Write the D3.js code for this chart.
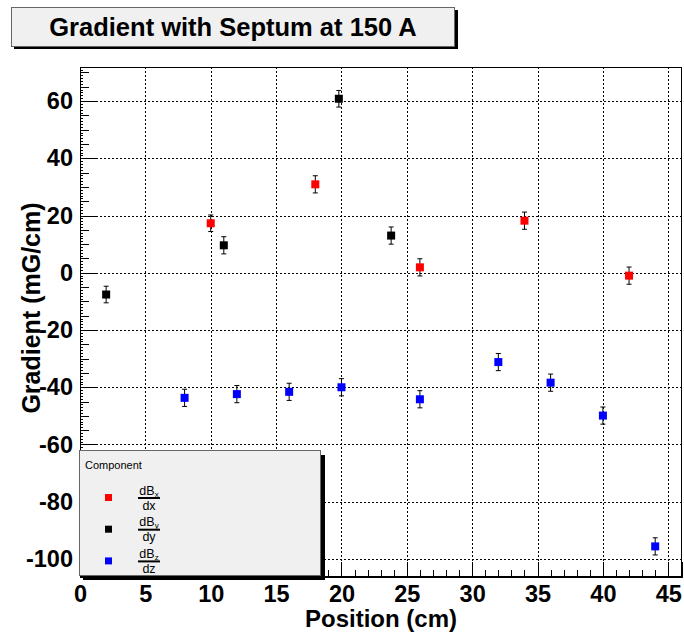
<!DOCTYPE html>
<html>
<head>
<meta charset="utf-8">
<script src="https://cdn.jsdelivr.net/npm/d3@7"></script>
<style>
  body { margin: 0; background: #fff; }
  svg { display: block; font-family: "Liberation Sans", Arial, sans-serif; }
</style>
</head>
<body>
<svg id="chart" width="684" height="635"></svg>
<script>
// ── Data ──────────────────────────────────────────────────────────────────────
const dxPos = [10, 18, 26, 34, 42];
const dxVal = [17.3, 30.9, 1.9, 18.2, -1.0];
const dxErr = [2.9, 3.0, 3.0, 3.0, 3.0];

const dyPos = [2, 11, 19.8, 23.8];
const dyVal = [-7.6, 9.6, 60.8, 13.0];
const dyErr = [2.9, 3.0, 2.9, 3.0];

const dzPos = [8, 12, 16, 20, 26, 32, 36, 40, 44];
const dzVal = [-43.7, -42.4, -41.6, -40.0, -44.2, -31.2, -38.4, -49.9, -95.6];
const dzErr = [3.0, 3.0, 3.0, 3.0, 3.0, 3.0, 3.0, 3.0, 3.0];

const xTicks = [0, 5, 10, 15, 20, 25, 30, 35, 40, 45];
const yTicks = [-100, -80, -60, -40, -20, 0, 20, 40, 60];

const series = [
  { name: "x", color: "#ff0000", pos: dxPos, val: dxVal, err: dxErr },
  { name: "y", color: "#000000", pos: dyPos, val: dyVal, err: dyErr },
  { name: "z", color: "#0000ff", pos: dzPos, val: dzVal, err: dzErr },
];

// ── Frame / scales ────────────────────────────────────────────────────────────
const L = 80, R = 682, T = 67, B = 577;
const x = d3.scaleLinear().domain([0, 46.05]).range([L, R]);
const y = d3.scaleLinear().domain([-106.3, 71.9]).range([B, T]);

const svg = d3.select("#chart");
svg.append("rect").attr("width", 684).attr("height", 635).attr("fill", "#fff");

// grid
const grid = svg.append("g").attr("stroke", "#000").attr("stroke-width", 1)
  .attr("stroke-dasharray", "2,2").attr("shape-rendering", "crispEdges");
grid.selectAll(".gx").data(xTicks.filter((d) => d > 0)).join("line")
  .attr("x1", (d) => Math.round(x(d)) + 0.5).attr("x2", (d) => Math.round(x(d)) + 0.5)
  .attr("y1", T).attr("y2", B);
grid.selectAll(".gy").data(yTicks).join("line")
  .attr("y1", (d) => Math.round(y(d)) + 0.5).attr("y2", (d) => Math.round(y(d)) + 0.5)
  .attr("x1", L).attr("x2", R);

// frame
svg.append("rect").attr("x", L + 0.5).attr("y", T + 0.5)
  .attr("width", R - L - 1).attr("height", B - T - 1)
  .attr("fill", "none").attr("stroke", "#000").attr("shape-rendering", "crispEdges");

// ── Axes (ticks inside, ROOT style) ───────────────────────────────────────────
const xMinor = d3.range(0, 47, 1);
const yMinor = d3.range(-105, 71, 5);
const yTiny = d3.range(-106, 72, 1);
const plain = (d) => String(d); // hyphen minus, like the reference

function tickAxis(axis, vals, size) {
  return axis.tickValues(vals).tickSize(-size).tickFormat("");
}

const bottom = svg.append("g").attr("transform", `translate(0,${B})`);
bottom.append("g").call(tickAxis(d3.axisBottom(x), xMinor, 7.5));
bottom.append("g").call(d3.axisBottom(x).tickValues(xTicks).tickSize(-15).tickPadding(8).tickFormat(plain));
bottom.selectAll(".domain").attr("stroke", "#000");
bottom.selectAll("text").attr("font-size", 23.5).attr("font-weight", "bold").attr("fill", "#000");

const left = svg.append("g").attr("transform", `translate(${L},0)`);
left.append("g").call(tickAxis(d3.axisLeft(y), yTiny, 3));
left.append("g").call(tickAxis(d3.axisLeft(y), yMinor, 9));
left.append("g").call(d3.axisLeft(y).tickValues(yTicks).tickSize(-18).tickPadding(7).tickFormat(plain));
left.selectAll(".domain").attr("stroke", "#000");
left.selectAll("text").attr("font-size", 23.5).attr("font-weight", "bold").attr("fill", "#000");
svg.selectAll(".tick line").attr("stroke", "#000").attr("shape-rendering", "crispEdges");

// axis titles
svg.append("text").attr("x", (L + R) / 2).attr("y", 627).attr("text-anchor", "middle")
  .attr("font-size", 24).attr("font-weight", "bold").text("Position (cm)");
svg.append("text").attr("transform", "translate(40,308) rotate(-90)")
  .attr("text-anchor", "middle").attr("font-size", 25).attr("font-weight", "bold")
  .text("Gradient (mG/cm)");

// ── Points with error bars ────────────────────────────────────────────────────
const pts = svg.append("g");
series.forEach((s) => {
  const rows = s.pos.map((p, i) => ({ p, v: s.val[i], e: s.err[i] }));
  const g = pts.append("g");
  g.selectAll(".eb").data(rows).join("line")
    .attr("x1", (d) => x(d.p)).attr("x2", (d) => x(d.p))
    .attr("y1", (d) => y(d.v + d.e)).attr("y2", (d) => y(d.v - d.e))
    .attr("stroke", "#000");
  g.selectAll(".cap").data(rows.flatMap((d) => [d.v + d.e, d.v - d.e].map((v) => ({ p: d.p, v }))))
    .join("line")
    .attr("x1", (d) => x(d.p) - 2.5).attr("x2", (d) => x(d.p) + 2.5)
    .attr("y1", (d) => y(d.v)).attr("y2", (d) => y(d.v))
    .attr("stroke", "#000");
  g.selectAll("rect").data(rows).join("rect")
    .attr("x", (d) => x(d.p) - 4).attr("y", (d) => y(d.v) - 4)
    .attr("width", 8).attr("height", 8).attr("fill", s.color);
});

// ── Legend ────────────────────────────────────────────────────────────────────
const lg = svg.append("g");
lg.append("rect").attr("x", 83).attr("y", 455).attr("width", 242).attr("height", 125).attr("fill", "#000");
lg.append("rect").attr("x", 79.5).attr("y", 450.5).attr("width", 241).attr("height", 125)
  .attr("fill", "#f0f0f0").attr("stroke", "#666");
lg.append("text").attr("x", 85).attr("y", 469).attr("font-size", 11).text("Component");
series.forEach((s, i) => {
  const cy = 497.5 + i * 31.7;
  lg.append("rect").attr("x", 105).attr("y", cy - 3.5).attr("width", 7).attr("height", 7).attr("fill", s.color);
  const num = lg.append("text").attr("x", 149).attr("y", cy - 3).attr("text-anchor", "middle").attr("font-size", 12.5);
  num.append("tspan").text("dB");
  num.append("tspan").attr("font-size", 8).attr("dy", 2).text(s.name);
  lg.append("line").attr("x1", 138).attr("x2", 160).attr("y1", cy + 0.5).attr("y2", cy + 0.5)
    .attr("stroke", "#000").attr("stroke-width", 2);
  lg.append("text").attr("x", 149).attr("y", cy + 12).attr("text-anchor", "middle").attr("font-size", 12.5)
    .text("d" + s.name);
});

// ── Title box ─────────────────────────────────────────────────────────────────
svg.append("rect").attr("x", 14).attr("y", 10).attr("width", 444).attr("height", 39).attr("fill", "#000");
svg.append("rect").attr("x", 11.5).attr("y", 7.5).attr("width", 443).attr("height", 39)
  .attr("fill", "#f0f0f0").attr("stroke", "#666");
svg.append("text").attr("x", 233).attr("y", 36).attr("text-anchor", "middle")
  .attr("font-size", 25.5).attr("font-weight", "bold").text("Gradient with Septum at 150 A");
</script>
</body>
</html>
